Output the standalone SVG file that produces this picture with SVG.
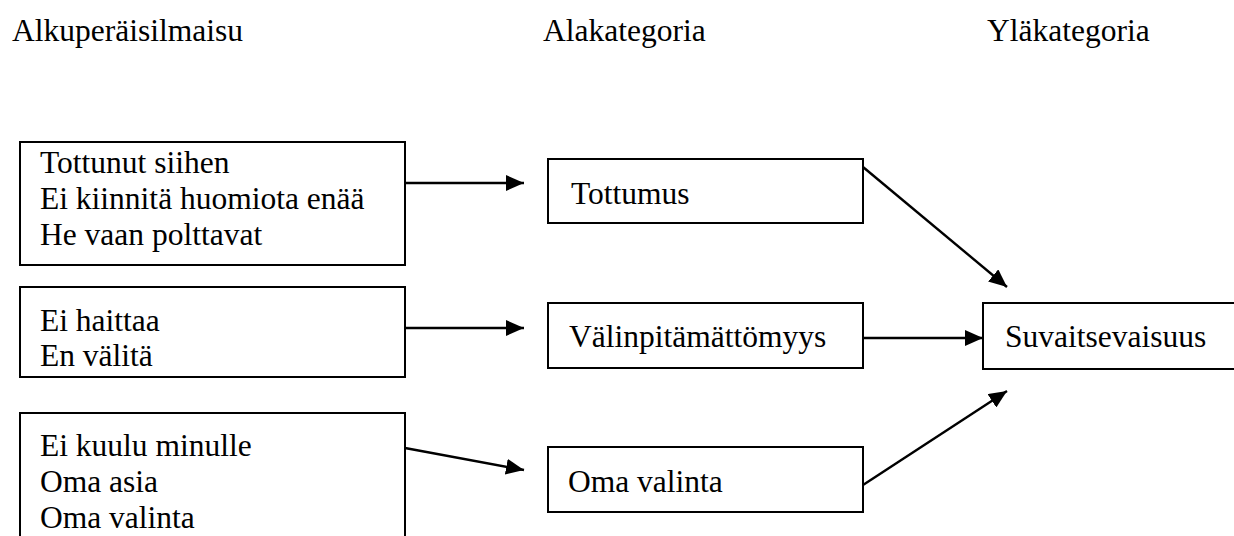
<svg xmlns="http://www.w3.org/2000/svg" width="1234" height="536" viewBox="0 0 1234 536">
  <style>
    text { font-family: "Liberation Serif", "Times New Roman", serif; font-size: 31.5px; fill: #000; }
    .box { fill: #fff; stroke: #000; stroke-width: 2; }
    .link { stroke: #000; stroke-width: 2.4; fill: none; marker-end: url(#head); }
  </style>
  <defs>
    <marker id="head" viewBox="0 0 18 16" refX="18" refY="8" markerWidth="18" markerHeight="16" markerUnits="userSpaceOnUse" orient="auto">
      <path d="M0,0 L18,8 L0,16 Z" fill="#000"/>
    </marker>
  </defs>

  <rect width="1234" height="536" fill="#fff"/>

  <!-- column headings -->
  <g id="headings">
    <text x="12" y="41">Alkuperäisilmaisu</text>
    <text x="543" y="41">Alakategoria</text>
    <text x="987" y="41">Yläkategoria</text>
  </g>

  <!-- original expressions -->
  <g id="expr-1">
    <rect class="box" x="20" y="142" width="385" height="123"/>
    <text x="40" y="173">Tottunut siihen</text>
    <text x="40" y="209">Ei kiinnitä huomiota enää</text>
    <text x="40" y="245">He vaan polttavat</text>
  </g>
  <g id="expr-2">
    <rect class="box" x="20" y="287" width="385" height="90"/>
    <text x="40" y="331">Ei haittaa</text>
    <text x="40" y="366">En välitä</text>
  </g>
  <g id="expr-3">
    <rect class="box" x="20" y="413" width="385" height="140"/>
    <text x="40" y="456">Ei kuulu minulle</text>
    <text x="40" y="492">Oma asia</text>
    <text x="40" y="528">Oma valinta</text>
  </g>

  <!-- subcategories -->
  <g id="sub-tottumus">
    <rect class="box" x="548" y="159" width="315" height="64"/>
    <text x="571" y="204">Tottumus</text>
  </g>
  <g id="sub-valinpitamattomyys">
    <rect class="box" x="548" y="303" width="315" height="65"/>
    <text x="569" y="347">Välinpitämättömyys</text>
  </g>
  <g id="sub-oma-valinta">
    <rect class="box" x="548" y="447" width="315" height="65"/>
    <text x="568" y="492">Oma valinta</text>
  </g>

  <!-- main category -->
  <g id="main-suvaitsevaisuus">
    <rect class="box" x="983" y="303" width="260" height="66"/>
    <text x="1005" y="347">Suvaitsevaisuus</text>
  </g>

  <!-- connectors -->
  <g id="connectors">
    <line class="link" x1="405" y1="183" x2="524" y2="183"/>
    <line class="link" x1="405" y1="328" x2="524" y2="328"/>
    <line class="link" x1="405" y1="448" x2="524" y2="470"/>
    <line class="link" x1="863" y1="167" x2="1007" y2="287"/>
    <line class="link" x1="863" y1="338" x2="983" y2="338"/>
    <line class="link" x1="863" y1="485" x2="1007" y2="391"/>
  </g>
</svg>
